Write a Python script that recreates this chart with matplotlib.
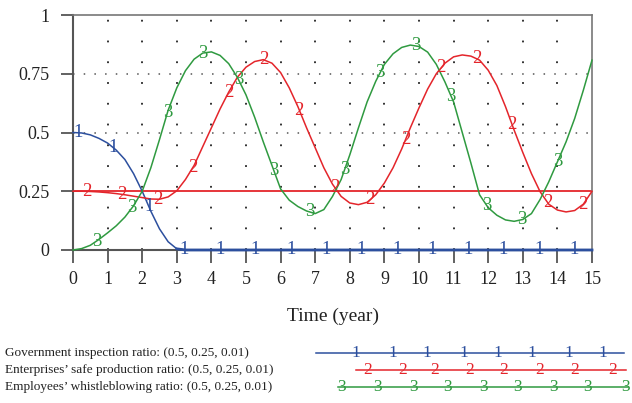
import numpy as np
import matplotlib
matplotlib.use("Agg")
import matplotlib.pyplot as plt
from matplotlib.lines import Line2D

# ---------------- data ----------------
time = np.linspace(0, 15, 61)

government = [0.50, 0.498, 0.49, 0.475, 0.455, 0.425, 0.385, 0.325, 0.25, 0.165, 0.09, 0.035, 0.005] + [0.0] * 48

enterprises = [0.25, 0.25, 0.249, 0.247, 0.244, 0.24, 0.235, 0.229, 0.223, 0.217, 0.216, 0.226, 0.252,
               0.30, 0.36, 0.44, 0.52, 0.60, 0.672, 0.735, 0.778, 0.802, 0.81, 0.795, 0.755,
               0.69, 0.61, 0.52, 0.435, 0.35, 0.28, 0.228, 0.20, 0.193, 0.203, 0.235, 0.285,
               0.35, 0.43, 0.52, 0.605, 0.685, 0.75, 0.795, 0.822, 0.83, 0.825, 0.808, 0.765,
               0.70, 0.61, 0.51, 0.415, 0.325, 0.248, 0.195, 0.17, 0.162, 0.168, 0.195, 0.25]

employees = [0.0, 0.006, 0.02, 0.045, 0.073, 0.103, 0.14, 0.188, 0.25, 0.35, 0.47, 0.595, 0.69,
             0.763, 0.812, 0.838, 0.843, 0.828, 0.793, 0.735, 0.66, 0.565, 0.46, 0.36, 0.26,
             0.212, 0.185, 0.166, 0.155, 0.172, 0.228, 0.30, 0.405, 0.52, 0.63, 0.718, 0.79,
             0.835, 0.862, 0.872, 0.866, 0.842, 0.79, 0.715, 0.63, 0.50, 0.37, 0.235, 0.18,
             0.148, 0.128, 0.122, 0.13, 0.155, 0.215, 0.29, 0.375, 0.46, 0.56, 0.68, 0.808]

baseline = 0.25

legend_labels = ["Government inspection ratio: (0.5, 0.25, 0.01)",
                 "Enterprises\u2019 safe production ratio: (0.5, 0.25, 0.01)",
                 "Employees\u2019 whistleblowing ratio: (0.5, 0.25, 0.01)"]
markers = ["1", "2", "3"]
xticks = list(range(0, 16))
yticks = [0, 0.25, 0.5, 0.75, 1]
ytick_labels = ["0", "0.25", "0.5", "0.75", "1"]
xlabel = "Time (year)"

# ---------------- style ----------------
BLUE = "#2c4f9e"
RED = "#e4252b"
GREEN = "#2f9a40"
colors = [BLUE, RED, GREEN]
SERIF = ["Liberation Serif", "DejaVu Serif"]
plt.rcParams["font.family"] = SERIF

W, H = 632, 403
fig = plt.figure(figsize=(W / 100, H / 100), dpi=100)
ax = fig.add_axes([73 / W, 1 - 250 / H, (592 - 73) / W, (250 - 15) / H])

ax.set_xlim(0, 15)
ax.set_ylim(0, 1)

# grid
for x in range(1, 15):
    ax.plot([x, x], [0, 1], color="#222222", lw=1.3, ls=(0, (1, 10.5)), zorder=1)
for y in [0.5, 0.75]:
    ax.plot([0, 15], [y, y], color="#555555", lw=1.1, ls=(0, (1, 6)), zorder=1)

ax.axhline(baseline, color=RED, lw=1.3, zorder=2)

series = [government, enterprises, employees]
offsets = [0.14, 0.39, 0.68]
step = 1.025
for vals, col, mk, off in zip(series, colors, markers, offsets):
    ax.plot(time, vals, color=col, lw=1.1, zorder=3, clip_on=False)
    tl = np.arange(off, 15.01, step)
    yl = np.interp(tl, time, vals)
    for tx, ty in zip(tl, yl):
        ax.text(tx, ty, mk, color=col, fontsize=13.5, ha="center", va="center", zorder=4)
# thicker blue at zero
ax.plot(time[12:], government[12:], color=BLUE, lw=2.0, zorder=3, clip_on=False)

for s in ["left", "bottom"]:
    ax.spines[s].set_color("#555555")
    ax.spines[s].set_linewidth(1.5)
for s in ["top", "right"]:
    ax.spines[s].set_color("#777777")
    ax.spines[s].set_linewidth(1.2)

ax.set_xticks(xticks)
ax.set_yticks(yticks)
ax.set_yticklabels(ytick_labels)
ax.tick_params(axis="both", direction="out", length=9, width=1.3, color="#555555",
               labelsize=13, labelcolor="#222222")
ax.tick_params(axis="x", pad=6)
ax.tick_params(axis="y", pad=8)
ax.set_xlabel(xlabel, fontsize=14, color="#222222", labelpad=14)

# legend
text_y = [353, 370, 387]
line_x = [(316, 624), (356, 626), (338, 628)]
label_x = [[356, 393, 427, 464, 498, 532, 569, 603],
           [368, 403, 435, 470, 504, 540, 575, 613],
           [342, 378, 413, 447, 484, 518, 553, 587, 625]]
for lab, col, mk, ty, (x0, x1), lx in zip(legend_labels, colors, markers, text_y, line_x, label_x):
    fig.text(5 / W, 1 - ty / H, lab, fontsize=9.5, ha="left", va="center", color="#222222")
    fig.add_artist(Line2D([x0 / W, x1 / W], [1 - ty / H, 1 - ty / H], color=col, lw=1.1,
                          transform=fig.transFigure))
    for xx in lx:
        fig.text(xx / W, 1 - ty / H, mk, color=col, fontsize=12.5, ha="center", va="center")

fig.savefig("out.png", dpi=100)
